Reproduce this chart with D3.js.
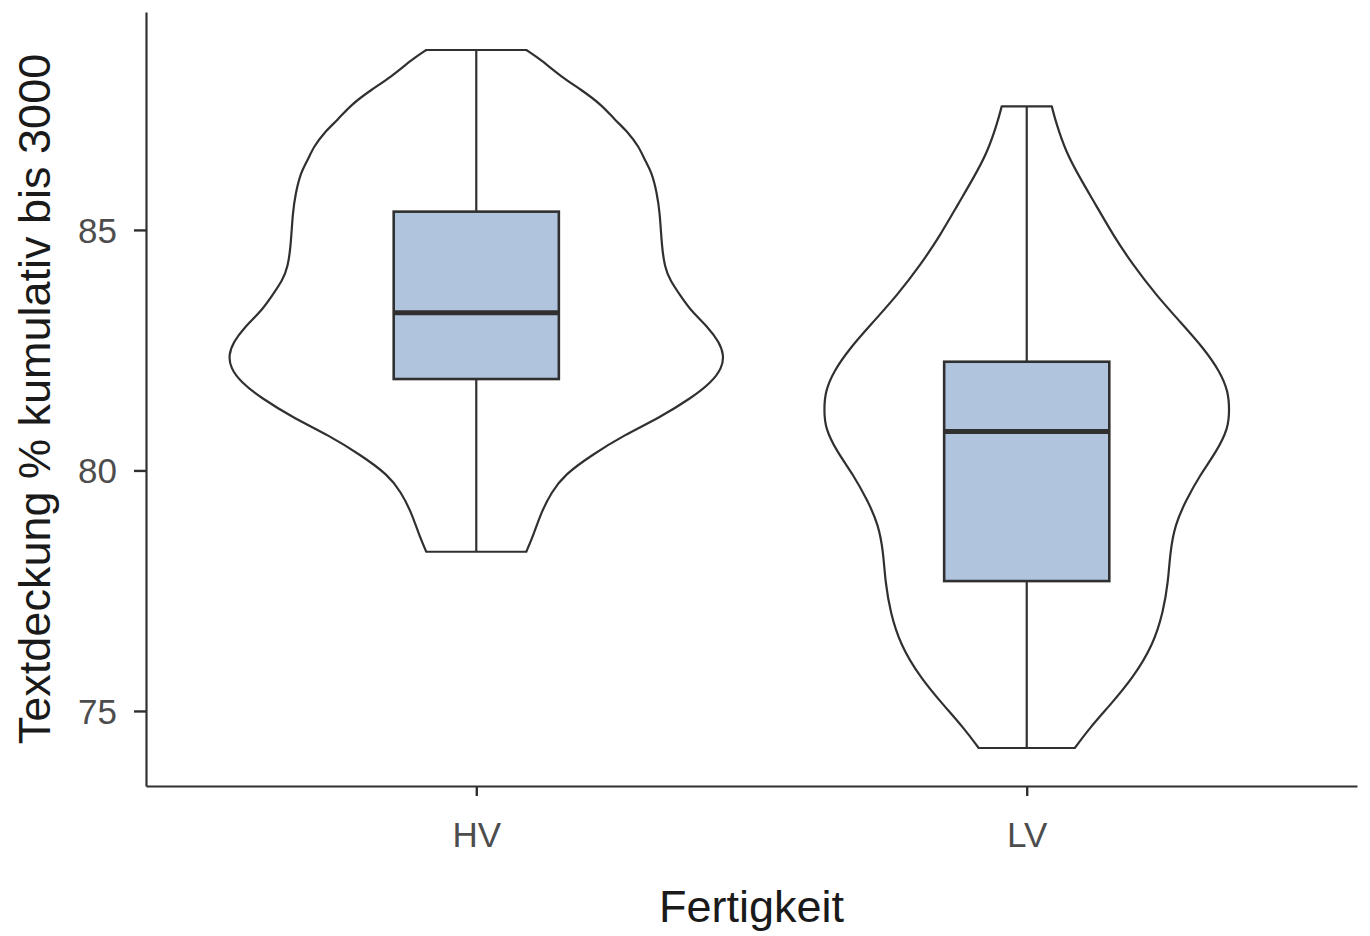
<!DOCTYPE html>
<html>
<head>
<meta charset="utf-8">
<script src="https://cdn.jsdelivr.net/npm/d3@7"></script>
<style>
  body { margin: 0; background: #fff; }
  svg { display: block; font-family: 'Liberation Sans', Arial, sans-serif; }
</style>
</head>
<body>
<svg id="chart" width="1370" height="936"></svg>
<script>
// categories
const groups = ['HV', 'LV']

// box summaries per group (min, q1, median, q3, max)
const boxMin = [78.31, 74.23]
const boxQ1 = [81.9, 77.7]
const boxMedian = [83.28, 80.81]
const boxQ3 = [85.38, 82.26]
const boxMax = [88.74, 87.57]

// violin outline: value and relative half-width
const hvValues = [88.74, 88.53, 88.18, 87.91, 87.6, 87.29, 87.02, 86.73, 86.46, 86.19, 85.77, 85.37, 84.65, 84.23, 83.96, 83.59, 83.3, 82.96, 82.67, 82.4, 82.13, 81.84, 81.51, 81.09, 80.74, 80.32, 79.91, 79.55, 79.14, 78.66, 78.31]
const hvWidths = [0.202, 0.263, 0.344, 0.425, 0.506, 0.559, 0.615, 0.656, 0.68, 0.709, 0.729, 0.741, 0.749, 0.761, 0.781, 0.83, 0.87, 0.939, 0.98, 1.0, 0.992, 0.951, 0.87, 0.737, 0.599, 0.466, 0.356, 0.304, 0.263, 0.231, 0.202]
const lvValues = [87.57, 87.25, 86.62, 86.08, 85.52, 84.9, 84.27, 83.65, 83.09, 82.55, 82.05, 81.63, 81.26, 80.88, 80.38, 79.91, 79.35, 78.87, 78.31, 77.68, 77.06, 76.37, 75.69, 75.12, 74.65, 74.23]
const lvWidths = [0.101, 0.117, 0.158, 0.215, 0.279, 0.348, 0.429, 0.522, 0.619, 0.713, 0.781, 0.814, 0.818, 0.814, 0.765, 0.7, 0.64, 0.599, 0.579, 0.571, 0.551, 0.51, 0.429, 0.336, 0.255, 0.194]

const yTicks = [75, 80, 85]
const xTitle = 'Fertigkeit'
const yTitle = 'Textdeckung % kumulativ bis 3000'

const width = 1370
const height = 936
const margin = { top: 12, right: 13, bottom: 150, left: 146 }
const lineColor = '#303030'
const boxFill = '#b0c4de'

const svg = d3.select('#chart')

const x = d3.scalePoint()
  .domain(groups)
  .range([margin.left, width - margin.right])
  .padding(0.6)

const y = d3.scaleLinear()
  .domain([73.44, 89.53])
  .range([height - margin.bottom, margin.top])

const step = x.step()
const halfWidth = d3.scaleLinear().domain([0, 1]).range([0, 0.45 * step])
const boxHalf = 0.15 * step

const violins = [
  { group: 'HV', values: hvValues, widths: hvWidths },
  { group: 'LV', values: lvValues, widths: lvWidths },
]

const boxes = groups.map((g, i) => ({
  group: g,
  min: boxMin[i],
  q1: boxQ1[i],
  median: boxMedian[i],
  q3: boxQ3[i],
  max: boxMax[i],
}))

// Violins
const area = (cx) => d3.area()
  .x0((d) => cx - halfWidth(d.w))
  .x1((d) => cx + halfWidth(d.w))
  .y((d) => y(d.v))
  .curve(d3.curveBasis)

svg.selectAll('path.violin')
  .data(violins)
  .enter()
  .append('path')
  .attr('class', 'violin')
  .attr('d', (d) => area(x(d.group))(d.values.map((v, i) => ({ v: v, w: d.widths[i] }))))
  .attr('fill', '#ffffff')
  .attr('stroke', lineColor)
  .attr('stroke-width', 2.2)
  .attr('stroke-linejoin', 'round')

// Boxes
const box = svg.selectAll('g.box')
  .data(boxes)
  .enter()
  .append('g')
  .attr('class', 'box')

box.append('line')
  .attr('x1', (d) => x(d.group))
  .attr('x2', (d) => x(d.group))
  .attr('y1', (d) => y(d.max))
  .attr('y2', (d) => y(d.q3))
  .attr('stroke', lineColor)
  .attr('stroke-width', 2.2)

box.append('line')
  .attr('x1', (d) => x(d.group))
  .attr('x2', (d) => x(d.group))
  .attr('y1', (d) => y(d.q1))
  .attr('y2', (d) => y(d.min))
  .attr('stroke', lineColor)
  .attr('stroke-width', 2.2)

box.append('rect')
  .attr('x', (d) => x(d.group) - boxHalf)
  .attr('y', (d) => y(d.q3))
  .attr('width', 2 * boxHalf)
  .attr('height', (d) => y(d.q1) - y(d.q3))
  .attr('fill', boxFill)
  .attr('stroke', lineColor)
  .attr('stroke-width', 2.6)

box.append('line')
  .attr('x1', (d) => x(d.group) - boxHalf)
  .attr('x2', (d) => x(d.group) + boxHalf)
  .attr('y1', (d) => y(d.median))
  .attr('y2', (d) => y(d.median))
  .attr('stroke', lineColor)
  .attr('stroke-width', 5)

// Axes
const yAxis = svg.append('g')
  .attr('transform', `translate(${margin.left},0)`)
  .call(d3.axisLeft(y).tickValues(yTicks).tickSize(12).tickSizeOuter(0))

const xAxis = svg.append('g')
  .attr('transform', `translate(0,${height - margin.bottom})`)
  .call(d3.axisBottom(x).tickSize(10).tickSizeOuter(0))

;[xAxis, yAxis].forEach((g) => {
  g.select('.domain').attr('stroke', lineColor).attr('stroke-width', 2.2)
  g.selectAll('.tick line').attr('stroke', lineColor).attr('stroke-width', 2.4)
  g.selectAll('.tick text')
    .attr('fill', '#4d4d4d')
    .style('font-size', '35px')
    .style('font-family', "'Liberation Sans', Arial, sans-serif")
})

yAxis.selectAll('.tick text').attr('x', -29).attr('dy', '0.35em')
xAxis.selectAll('.tick text').attr('y', 61).attr('dy', 0)

// Axis titles
svg.append('text')
  .attr('x', (margin.left + width - margin.right) / 2)
  .attr('y', 922)
  .attr('text-anchor', 'middle')
  .attr('fill', '#1a1a1a')
  .style('font-size', '45px')
  .text(xTitle)

svg.append('text')
  .attr('transform', `translate(50,${(margin.top + height - margin.bottom) / 2}) rotate(-90)`)
  .attr('text-anchor', 'middle')
  .attr('fill', '#1a1a1a')
  .style('font-size', '45px')
  .text(yTitle)
</script>
</body>
</html>
